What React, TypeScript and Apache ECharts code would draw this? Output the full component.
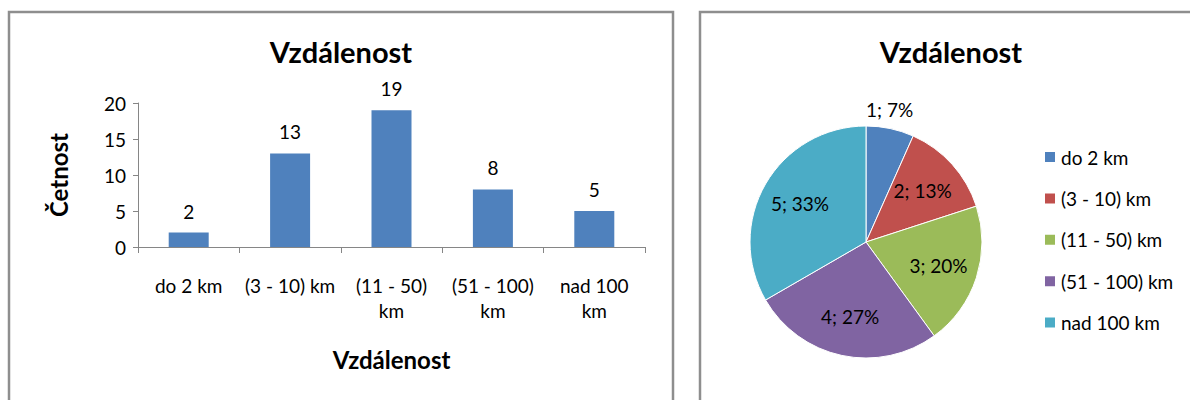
import React, { useEffect, useRef } from 'react';
import * as echarts from 'echarts';

const categories = ['do 2 km', '(3 - 10) km', '(11 - 50) km', '(51 - 100) km', 'nad 100 km'];
const xTickLabels = ['do 2 km', '(3 - 10) km', '(11 - 50)\nkm', '(51 - 100)\nkm', 'nad 100\nkm'];
const barValues = [2, 13, 19, 8, 5];
const pieValues = [1, 2, 3, 4, 5];
const pieColors = ['#4F81BD', '#C0504D', '#9BBB59', '#8064A2', '#4BACC6'];
const barColor = '#4F81BD';
const chartTitle = 'Vzdálenost';
const yAxisName = 'Četnost';
const xAxisName = 'Vzdálenost';

const FONT = 'Lato';
const PIE_CX = 866;
const PIE_CY = 242;

export default function App() {
  const ref = useRef<HTMLDivElement>(null);
  useEffect(() => {
    if (!ref.current) return;
    const chart = echarts.init(ref.current, null, { renderer: 'svg' });
    chart.setOption({
      animation: false,
      textStyle: { fontFamily: FONT, color: '#000' },
      title: [
        { text: chartTitle, left: 336, top: 32, textAlign: 'center',
          textStyle: { fontFamily: FONT, fontSize: 29, fontWeight: 'bold', color: '#000' } },
        { text: chartTitle, left: 946, top: 32, textAlign: 'center',
          textStyle: { fontFamily: FONT, fontSize: 29, fontWeight: 'bold', color: '#000' } },
      ],
      graphic: [
        { type: 'rect', shape: { x: 9, y: 12, width: 664, height: 420 }, silent: true,
          style: { fill: 'none', stroke: '#8E8E8E', lineWidth: 2.5 } },
        { type: 'rect', shape: { x: 700, y: 12, width: 520, height: 420 }, silent: true,
          style: { fill: 'none', stroke: '#8E8E8E', lineWidth: 2.5 } },
      ],
      legend: {
        orient: 'vertical',
        left: 1038,
        top: 142,
        data: categories,
        itemWidth: 12,
        itemHeight: 12,
        itemGap: 21.4,
        icon: 'rect',
        textStyle: { fontFamily: FONT, fontSize: 19, color: '#000', lineHeight: 20 },
      },
      grid: { left: 138, right: 545, top: 103, bottom: 153, containLabel: false },
      xAxis: {
        type: 'category',
        data: categories,
        name: xAxisName,
        nameLocation: 'middle',
        nameGap: 100,
        nameTextStyle: { fontFamily: FONT, fontSize: 24, fontWeight: 'bold', color: '#000' },
        axisLine: { lineStyle: { color: '#868686', width: 1 } },
        axisTick: { show: true, length: 6, lineStyle: { color: '#868686' } },
        axisLabel: {
          interval: 0,
          margin: 26,
          fontFamily: FONT,
          fontSize: 19,
          lineHeight: 25,
          color: '#000',
          formatter: (_v: string, i: number) => xTickLabels[i],
        },
      },
      yAxis: {
        type: 'value',
        min: 0,
        max: 20,
        interval: 5,
        name: yAxisName,
        nameLocation: 'middle',
        nameGap: 68,
        nameTextStyle: { fontFamily: FONT, fontSize: 24, fontWeight: 'bold', color: '#000' },
        axisLine: { show: true, lineStyle: { color: '#868686', width: 1 } },
        axisTick: { show: true, length: 5, lineStyle: { color: '#868686' } },
        splitLine: { show: false },
        axisLabel: { margin: 12, fontFamily: FONT, fontSize: 19, color: '#000' },
      },
      series: [
        {
          type: 'bar',
          data: barValues,
          barWidth: 40,
          itemStyle: { color: barColor },
          label: { show: true, position: 'top', distance: 12, fontFamily: FONT, fontSize: 19, color: '#000' },
        },
        {
          type: 'pie',
          center: [PIE_CX, PIE_CY],
          radius: 116,
          startAngle: 90,
          clockwise: true,
          percentPrecision: 0,
          color: pieColors,
          data: categories.map((name, i) => ({ name, value: pieValues[i] })),
          itemStyle: { borderColor: '#fff', borderWidth: 1 },
          emphasis: { disabled: true },
          label: {
            show: true,
            position: 'inside',
            fontFamily: FONT,
            fontSize: 19,
            color: '#000',
            formatter: (p: any) => `${p.value}; ${Math.round(p.percent)}%`,
          },
          labelLine: { show: false },
          labelLayout: (p: any) => {
            if (p.dataIndex === 0) {
              return {
                x: p.rect.x + p.rect.width / 2,
                y: p.rect.y - 16,
                align: 'center',
                verticalAlign: 'middle',
              };
            }
            const lx = p.labelRect.x + p.labelRect.width / 2;
            const ly = p.labelRect.y + p.labelRect.height / 2;
            return {
              x: PIE_CX + (lx - PIE_CX) * 1.25,
              y: PIE_CY + (ly - PIE_CY) * 1.25,
              align: 'center',
              verticalAlign: 'middle',
            };
          },
        },
      ],
    });
    return () => chart.dispose();
  }, []);
  return (
    <div
      ref={ref}
      style={{ position: 'absolute', left: 0, top: 0, width: 1190, height: 400 }}
    />
  );
}
